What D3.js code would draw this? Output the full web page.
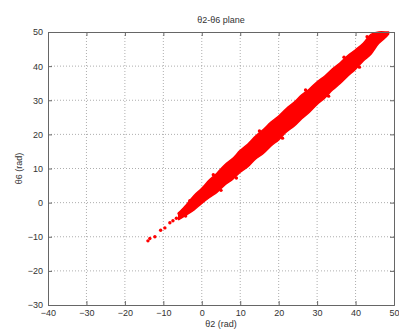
<!DOCTYPE html>
<html>
<head>
<meta charset="utf-8">
<script src="https://cdn.jsdelivr.net/npm/d3@7"></script>
<style>
  body { margin: 0; background: #fff; }
  text { font-family: "Liberation Sans", Arial, sans-serif; fill: #333; }
</style>
</head>
<body>
<div id="chart"></div>
<script>
var W = 399, H = 331;
var margin = {top: 32, right: 5, bottom: 26, left: 48};
var width = W - margin.left - margin.right;
var height = H - margin.top - margin.bottom;

// dense part of the cloud: lower / upper edge of theta6 at given theta2
var bandTheta2 = [-6, -4, -2, 0, 2, 4, 6, 8, 10, 12, 14, 16, 18, 20, 22, 24, 26, 28, 30, 32, 34, 36, 38, 40, 42, 44, 46, 48, 48.6];
var bandLow  = [-5, -3.6, -2.1, -0.2, 1.5, 3.1, 5.2, 6.8, 8.9, 10.5, 12.8, 14.4, 16.6, 18.4, 20.7, 22.4, 24.6, 26.5, 28.8, 30.7, 33.0, 34.9, 37.1, 39.1, 41.5, 43.5, 46.6, 48.6, 49.4];
var bandHigh = [-3, -0.6, 2.1, 4.2, 6.7, 8.7, 11.1, 12.9, 15.3, 17.2, 19.5, 21.4, 23.6, 25.4, 27.6, 29.4, 31.6, 33.3, 35.4, 37.1, 39.2, 41.0, 43.1, 44.8, 46.7, 49.3, 50, 50, 50];

// sparse samples (tail and ragged edges)
var ptTheta2 = [-14, -13.5, -12.2, -10.7, -9.6, -8.3, -7.5, -6.6, -5.9, -4.9, -4.2, -3.1, 3, 5, 9, 15, 21, 27, 33, 37, 41, 43];
var ptTheta6 = [-11.2, -10.5, -10, -8.1, -7.4, -5.9, -5.3, -4.6, -3.2, -2.2, -3.9, 0.6, 8.2, 3.6, 7.2, 21.0, 18.9, 33.0, 31.2, 42.6, 39.7, 48.6];

var xTicks = [-40, -30, -20, -10, 0, 10, 20, 30, 40, 50];
var yTicks = [-30, -20, -10, 0, 10, 20, 30, 40, 50];

var svg = d3.select("#chart").append("svg")
    .attr("width", W)
    .attr("height", H);

var g = svg.append("g")
    .attr("transform", "translate(" + margin.left + "," + margin.top + ")");

var x = d3.scaleLinear().domain([-40, 50]).range([0, width]);
var y = d3.scaleLinear().domain([-30, 50]).range([height, 0]);

// grid
g.append("g").selectAll("line")
  .data(xTicks.slice(1, -1))
  .enter().append("line")
    .attr("x1", function(d){ return x(d); })
    .attr("x2", function(d){ return x(d); })
    .attr("y1", 0).attr("y2", height)
    .attr("stroke", "#999").attr("stroke-width", 0.8)
    .attr("stroke-dasharray", "1,2");

g.append("g").selectAll("line")
  .data(yTicks.slice(1, -1))
  .enter().append("line")
    .attr("y1", function(d){ return y(d); })
    .attr("y2", function(d){ return y(d); })
    .attr("x1", 0).attr("x2", width)
    .attr("stroke", "#999").attr("stroke-width", 0.8)
    .attr("stroke-dasharray", "1,2");

// data
var band = bandTheta2.map(function(d, i){ return {t2: d, lo: bandLow[i], hi: bandHigh[i]}; });
var area = d3.area()
    .x(function(d){ return x(d.t2); })
    .y0(function(d){ return y(d.lo); })
    .y1(function(d){ return y(d.hi); })
    .curve(d3.curveCatmullRom);

g.append("path")
  .datum(band)
  .attr("d", area)
  .attr("fill", "#f00")
  .attr("stroke", "#f00")
  .attr("stroke-width", 1.5)
  .attr("stroke-linejoin", "round");

g.selectAll(".pt")
  .data(ptTheta2)
  .enter().append("circle")
    .attr("class", "pt")
    .attr("cx", function(d){ return x(d); })
    .attr("cy", function(d, i){ return y(ptTheta6[i]); })
    .attr("r", 1.7)
    .attr("fill", "#f00");

// axes (matlab style, ticks inward, box)
var xAxis = d3.axisBottom(x).tickValues(xTicks).tickSize(-4).tickPadding(5);
var yAxis = d3.axisLeft(y).tickValues(yTicks).tickSize(-4).tickPadding(5);
var xTop = d3.axisTop(x).tickValues(xTicks).tickSize(-4).tickFormat("");
var yRight = d3.axisRight(y).tickValues(yTicks).tickSize(-4).tickFormat("");

function styleAxis(sel) {
  sel.select(".domain").attr("stroke", "#666");
  sel.selectAll(".tick line").attr("stroke", "#666");
  sel.selectAll("text").style("font-size", "9px").attr("fill", "#333");
}

g.append("g").attr("transform", "translate(0," + height + ")").call(xAxis).call(styleAxis);
g.append("g").call(yAxis).call(styleAxis);
g.append("g").call(xTop).call(styleAxis);
g.append("g").attr("transform", "translate(" + width + ",0)").call(yRight).call(styleAxis);

// titles
svg.append("text")
  .attr("x", margin.left + width / 2)
  .attr("y", 23)
  .attr("text-anchor", "middle")
  .style("font-size", "9px")
  .text("θ2-θ6 plane");

svg.append("text")
  .attr("x", margin.left + width / 2)
  .attr("y", 327)
  .attr("text-anchor", "middle")
  .style("font-size", "9px")
  .text("θ2 (rad)");

svg.append("text")
  .attr("transform", "translate(22," + (margin.top + height / 2) + ") rotate(-90)")
  .attr("text-anchor", "middle")
  .style("font-size", "9px")
  .text("θ6 (rad)");
</script>
</body>
</html>
